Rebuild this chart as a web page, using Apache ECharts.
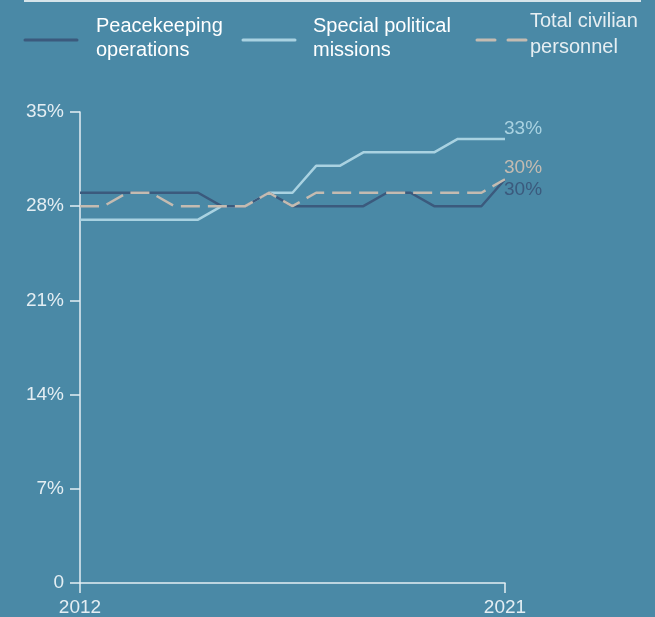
<!DOCTYPE html>
<html><head><meta charset="utf-8">
<script src="https://cdn.jsdelivr.net/npm/echarts@6/dist/echarts.min.js"></script>
<style>html,body{margin:0;padding:0;background:#4a89a6;}#c{width:655px;height:617px;}</style>
</head><body><div id="c"></div>
<script>
// Half-year periods, 2012 to 2021
const periods = ['2012 H1','2012 H2','2013 H1','2013 H2','2014 H1','2014 H2','2015 H1','2015 H2','2016 H1','2016 H2','2017 H1','2017 H2','2018 H1','2018 H2','2019 H1','2019 H2','2020 H1','2020 H2','2021'];
const xTickLabels = {0:'2012', 18:'2021'};
const peacekeeping = [29,29,29,29,29,29,28,28,29,28,28,28,28,29,29,28,28,28,30];
const specialPolitical = [27,27,27,27,27,27,28,28,29,29,31,31,32,32,32,32,33,33,33];
const totalCivilian = [28,28,29,29,28,28,28,28,29,28,29,29,29,29,29,29,29,29,30];
const yTicks = [0,7,14,21,28,35];

const BG = '#4a89a6', AX = '#e4eef3';
const C_DARK = '#3b5a7d', C_LIGHT = '#a9d2e1', C_DASH = '#c4bbb1';
const FONT = "'Liberation Sans Narrow','Liberation Sans',sans-serif";

const chart = echarts.init(document.getElementById('c'));
chart.setOption({
  backgroundColor: BG,
  animation: false,
  grid: {left: 80, right: 150, top: 112, bottom: 34, containLabel: false},
  xAxis: {
    type: 'category', data: periods, boundaryGap: false,
    axisLine: {lineStyle: {color: AX, width: 1.5}},
    axisTick: {show: true, length: 10, lineStyle: {color: AX, width: 1.5}, interval: (i) => xTickLabels[i] !== undefined},
    axisLabel: {interval: (i) => xTickLabels[i] !== undefined, formatter: (v, i) => xTickLabels[i] || '', color: AX, fontFamily: FONT, fontSize: 19, margin: 15}
  },
  yAxis: {
    type: 'value', min: yTicks[0], max: yTicks[yTicks.length-1], interval: 7,
    splitLine: {show: false},
    axisLine: {show: true, lineStyle: {color: AX, width: 1.5}},
    axisTick: {show: true, length: 10, lineStyle: {color: AX, width: 1.5}},
    axisLabel: {formatter: (v) => v === 0 ? '0' : v + '%', color: AX, fontFamily: FONT, fontSize: 19, margin: 16}
  },
  series: [
    {name: 'Special political missions', type: 'line', data: specialPolitical, symbol: 'none',
     lineStyle: {color: C_LIGHT, width: 2.5},
     endLabel: {show: true, formatter: '{c}%', color: C_LIGHT, fontFamily: FONT, fontSize: 19, offset: [-9, -10]}},
    {name: 'Peacekeeping operations', type: 'line', data: peacekeeping, symbol: 'none',
     lineStyle: {color: C_DARK, width: 2.5},
     endLabel: {show: true, formatter: '{c}%', color: C_DARK, fontFamily: FONT, fontSize: 19, offset: [-9, 10]}},
    {name: 'Total civilian personnel', type: 'line', data: totalCivilian, symbol: 'none',
     lineStyle: {color: C_DASH, width: 2.5, type: [19, 8]},
     endLabel: {show: true, formatter: '{c}%', color: C_DASH, fontFamily: FONT, fontSize: 19, offset: [-9, -12]}}
  ],
  graphic: [
    {type: 'line', shape: {x1: 24, y1: 1, x2: 641, y2: 1}, style: {stroke: '#d6e4ea', lineWidth: 2}},
    {type: 'line', shape: {x1: 25, y1: 40, x2: 77, y2: 40}, style: {stroke: C_DARK, lineWidth: 3, lineCap: 'round'}},
    {type: 'text', left: 96, top: 14, style: {text: 'Peacekeeping\noperations', fill: '#ffffff', font: "500 20px " + FONT, lineHeight: 24}},
    {type: 'line', shape: {x1: 243, y1: 40, x2: 295, y2: 40}, style: {stroke: C_LIGHT, lineWidth: 3, lineCap: 'round'}},
    {type: 'text', left: 313, top: 14, style: {text: 'Special political\nmissions', fill: '#ffffff', font: "500 20px " + FONT, lineHeight: 24}},
    {type: 'line', shape: {x1: 477, y1: 40, x2: 527, y2: 40}, style: {stroke: C_DASH, lineWidth: 3, lineCap: 'round', lineDash: [18, 13]}},
    {type: 'text', left: 530, top: 8, style: {text: 'Total civilian\npersonnel', fill: '#e6eef2', font: "20px " + FONT, lineHeight: 26}}
  ]
});
</script></body></html>
